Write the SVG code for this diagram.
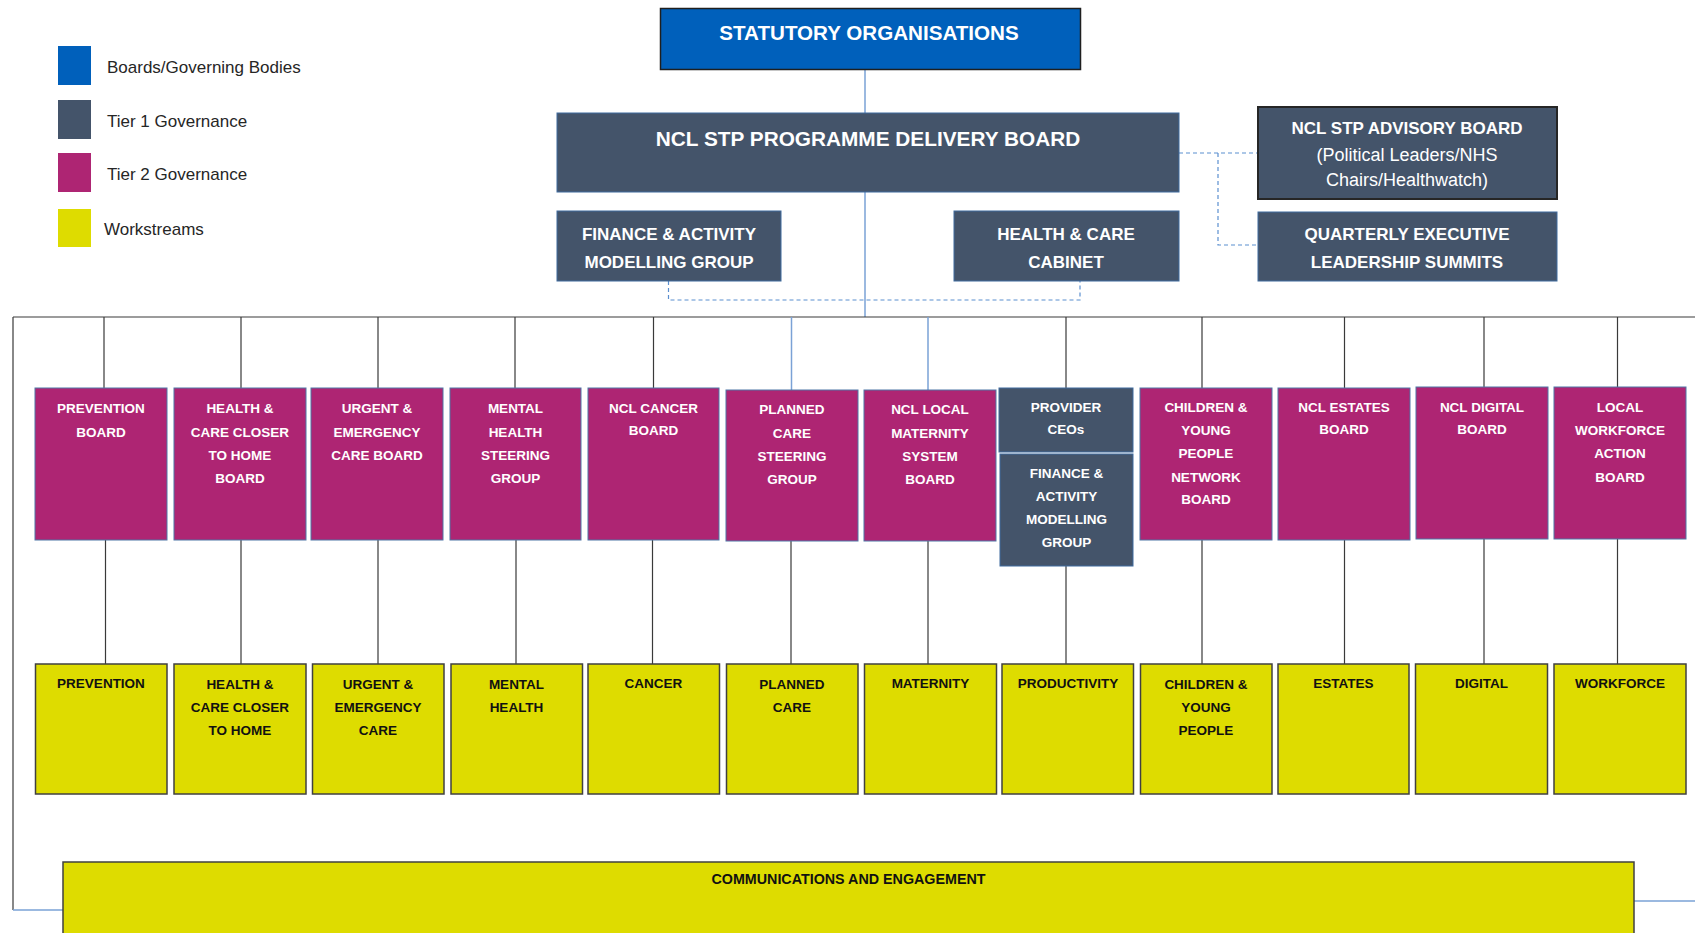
<svg xmlns="http://www.w3.org/2000/svg" width="1695" height="933" viewBox="0 0 1695 933">
  <style>
    .bd { fill: #0060BB; stroke: #1f1f1f; stroke-width: 1.5; }
    .t1 { fill: #44546A; stroke: #3F6B9E; stroke-width: 1; }
    .t2 { fill: #AE2573; stroke: #4F76A6; stroke-width: 1; }
    .ws { fill: #DEDC00; stroke: #404040; stroke-width: 1.5; }
    text { font-family: "Liberation Sans", Arial, sans-serif; }
    .lg { font-size: 17px; fill: #262626; }
    .h { font-weight: bold; text-anchor: middle; fill: #fff; }
    .big { font-size: 20.6px; }
    .mid { font-size: 17px; }
    .sm { font-size: 13.5px; }
    .reg { font-weight: normal; font-size: 18px; }
    .k { fill: #111; }
    .con { stroke: #3a3a3a; stroke-width: 1.2; fill: none; }
    .conb { stroke: #7BA2D6; stroke-width: 1.5; fill: none; }
    .dash { stroke: #5B8FD0; stroke-width: 1.2; stroke-dasharray: 4 3; fill: none; }
  </style>

  <!-- legend -->
  <g id="legend">
    <rect x="58" y="46" width="33" height="39" fill="#0060BB"/>
    <text class="lg" x="107" y="73">Boards/Governing Bodies</text>
    <rect x="58" y="100" width="33" height="39" fill="#44546A"/>
    <text class="lg" x="107" y="127">Tier 1 Governance</text>
    <rect x="58" y="153" width="33" height="39" fill="#AE2573"/>
    <text class="lg" x="107" y="180">Tier 2 Governance</text>
    <rect x="58" y="209" width="33" height="38" fill="#DEDC00"/>
    <text class="lg" x="104" y="235">Workstreams</text>
  </g>

  <!-- connectors -->
  <g id="connectors">
    <path class="conb" d="M865,70 V113 M865,192 V317"/>
    <path class="dash" d="M668.5,281 V300 H1080 V281"/>
    <path class="dash" d="M1179,153 H1258 M1218,153 V245 H1258"/>
    <path class="con" d="M13,317 H1695 M13,317 V910"/>
    <path class="conb" d="M13,910 H63 M1634,901 H1695"/>
    <!-- bus to tier 2 -->
    <path class="con" d="M104,317 V388 M241,317 V388 M378,317 V388 M515,317 V388 M653.5,317 V388 M1066,317 V388 M1202,317 V388 M1344.5,317 V388 M1484,317 V387 M1617.5,317 V387"/>
    <path class="conb" d="M791.5,317 V390 M928,317 V390"/>
    <!-- tier 2 to workstreams -->
    <path class="con" d="M105.5,540 V664 M241,540 V664 M378,540 V664 M516,540 V664 M652.5,540 V664 M791,541 V664 M928,541 V664 M1066,566 V664 M1202,540 V664 M1344.5,540 V664 M1484,539 V664 M1617.5,539 V664"/>
  </g>

  <!-- boards and tier 1 -->
  <g id="statutory">
    <rect class="bd" x="660.5" y="8.5" width="420" height="61"/>
    <text class="h big" x="869" y="40">STATUTORY ORGANISATIONS</text>
  </g>
  <g id="delivery-board">
    <rect class="t1" x="557" y="113" width="622" height="79"/>
    <text class="h" style="font-size:20.8px" x="868" y="146">NCL STP PROGRAMME DELIVERY BOARD</text>
  </g>
  <g id="finance-activity-top">
    <rect class="t1" x="557" y="211" width="224" height="70"/>
    <text class="h mid" x="669" y="240">FINANCE &amp; ACTIVITY</text>
    <text class="h mid" x="669" y="268">MODELLING GROUP</text>
  </g>
  <g id="health-care-cabinet">
    <rect class="t1" x="954" y="211" width="225" height="70"/>
    <text class="h mid" x="1066" y="240">HEALTH &amp; CARE</text>
    <text class="h mid" x="1066" y="268">CABINET</text>
  </g>
  <g id="advisory-board">
    <rect x="1258" y="107" width="299" height="92" fill="#44546A" stroke="#262626" stroke-width="2"/>
    <text class="h mid" x="1407" y="134">NCL STP ADVISORY BOARD</text>
    <text class="h reg" x="1407" y="161">(Political Leaders/NHS</text>
    <text class="h reg" x="1407" y="186">Chairs/Healthwatch)</text>
  </g>
  <g id="leadership-summits">
    <rect class="t1" x="1258" y="212" width="299" height="69"/>
    <text class="h mid" x="1407" y="240">QUARTERLY EXECUTIVE</text>
    <text class="h mid" x="1407" y="268">LEADERSHIP SUMMITS</text>
  </g>

  <!-- tier 2 governance -->
  <g id="prevention-board">
    <rect class="t2" x="35" y="388" width="132" height="152"/>
    <text class="h sm" x="101" y="413">PREVENTION</text>
    <text class="h sm" x="101" y="437">BOARD</text>
  </g>
  <g id="closer-to-home-board">
    <rect class="t2" x="174" y="388" width="132" height="152"/>
    <text class="h sm" x="240" y="413">HEALTH &amp;</text>
    <text class="h sm" x="240" y="437">CARE CLOSER</text>
    <text class="h sm" x="240" y="460">TO HOME</text>
    <text class="h sm" x="240" y="483">BOARD</text>
  </g>
  <g id="urgent-care-board">
    <rect class="t2" x="311" y="388" width="132" height="152"/>
    <text class="h sm" x="377" y="413">URGENT &amp;</text>
    <text class="h sm" x="377" y="437">EMERGENCY</text>
    <text class="h sm" x="377" y="460">CARE BOARD</text>
  </g>
  <g id="mental-health-group">
    <rect class="t2" x="450" y="388" width="131" height="152"/>
    <text class="h sm" x="515.5" y="413">MENTAL</text>
    <text class="h sm" x="515.5" y="437">HEALTH</text>
    <text class="h sm" x="515.5" y="460">STEERING</text>
    <text class="h sm" x="515.5" y="483">GROUP</text>
  </g>
  <g id="cancer-board">
    <rect class="t2" x="588" y="388" width="131" height="152"/>
    <text class="h sm" x="653.5" y="413">NCL CANCER</text>
    <text class="h sm" x="653.5" y="435">BOARD</text>
  </g>
  <g id="planned-care-group">
    <rect class="t2" x="726" y="390" width="132" height="151"/>
    <text class="h sm" x="792" y="414">PLANNED</text>
    <text class="h sm" x="792" y="438">CARE</text>
    <text class="h sm" x="792" y="461">STEERING</text>
    <text class="h sm" x="792" y="484">GROUP</text>
  </g>
  <g id="maternity-board">
    <rect class="t2" x="864" y="390" width="132" height="151"/>
    <text class="h sm" x="930" y="414">NCL LOCAL</text>
    <text class="h sm" x="930" y="438">MATERNITY</text>
    <text class="h sm" x="930" y="461">SYSTEM</text>
    <text class="h sm" x="930" y="484">BOARD</text>
  </g>
  <g id="provider-ceos">
    <rect class="t1" x="999" y="388" width="134" height="64"/>
    <text class="h sm" x="1066" y="412">PROVIDER</text>
    <text class="h sm" x="1066" y="434">CEOs</text>
  </g>
  <g id="finance-activity-group">
    <rect class="t1" x="1000" y="454" width="133" height="112"/>
    <text class="h sm" x="1066.5" y="478">FINANCE &amp;</text>
    <text class="h sm" x="1066.5" y="501">ACTIVITY</text>
    <text class="h sm" x="1066.5" y="524">MODELLING</text>
    <text class="h sm" x="1066.5" y="547">GROUP</text>
  </g>
  <g id="children-network-board">
    <rect class="t2" x="1140" y="388" width="132" height="152"/>
    <text class="h sm" x="1206" y="412">CHILDREN &amp;</text>
    <text class="h sm" x="1206" y="435">YOUNG</text>
    <text class="h sm" x="1206" y="458">PEOPLE</text>
    <text class="h sm" x="1206" y="482">NETWORK</text>
    <text class="h sm" x="1206" y="504">BOARD</text>
  </g>
  <g id="estates-board">
    <rect class="t2" x="1278" y="388" width="132" height="152"/>
    <text class="h sm" x="1344" y="412">NCL ESTATES</text>
    <text class="h sm" x="1344" y="434">BOARD</text>
  </g>
  <g id="digital-board">
    <rect class="t2" x="1416" y="387" width="132" height="152"/>
    <text class="h sm" x="1482" y="412">NCL DIGITAL</text>
    <text class="h sm" x="1482" y="434">BOARD</text>
  </g>
  <g id="workforce-board">
    <rect class="t2" x="1554" y="387" width="132" height="152"/>
    <text class="h sm" x="1620" y="412">LOCAL</text>
    <text class="h sm" x="1620" y="435">WORKFORCE</text>
    <text class="h sm" x="1620" y="458">ACTION</text>
    <text class="h sm" x="1620" y="482">BOARD</text>
  </g>

  <!-- workstreams -->
  <g id="ws-prevention">
    <rect class="ws" x="35.5" y="664" width="131.5" height="130"/>
    <text class="h sm k" x="101" y="688">PREVENTION</text>
  </g>
  <g id="ws-closer-to-home">
    <rect class="ws" x="174" y="664" width="132" height="130"/>
    <text class="h sm k" x="240" y="689">HEALTH &amp;</text>
    <text class="h sm k" x="240" y="712">CARE CLOSER</text>
    <text class="h sm k" x="240" y="735">TO HOME</text>
  </g>
  <g id="ws-urgent-care">
    <rect class="ws" x="312.5" y="664" width="131.5" height="130"/>
    <text class="h sm k" x="378" y="689">URGENT &amp;</text>
    <text class="h sm k" x="378" y="712">EMERGENCY</text>
    <text class="h sm k" x="378" y="735">CARE</text>
  </g>
  <g id="ws-mental-health">
    <rect class="ws" x="451" y="664" width="131.5" height="130"/>
    <text class="h sm k" x="516.5" y="689">MENTAL</text>
    <text class="h sm k" x="516.5" y="712">HEALTH</text>
  </g>
  <g id="ws-cancer">
    <rect class="ws" x="588" y="664" width="131.5" height="130"/>
    <text class="h sm k" x="653.5" y="688">CANCER</text>
  </g>
  <g id="ws-planned-care">
    <rect class="ws" x="726.5" y="664" width="131.5" height="130"/>
    <text class="h sm k" x="792" y="689">PLANNED</text>
    <text class="h sm k" x="792" y="712">CARE</text>
  </g>
  <g id="ws-maternity">
    <rect class="ws" x="864.5" y="664" width="132" height="130"/>
    <text class="h sm k" x="930.5" y="688">MATERNITY</text>
  </g>
  <g id="ws-productivity">
    <rect class="ws" x="1002" y="664" width="131.5" height="130"/>
    <text class="h sm k" x="1068" y="688">PRODUCTIVITY</text>
  </g>
  <g id="ws-children">
    <rect class="ws" x="1140.5" y="664" width="131.5" height="130"/>
    <text class="h sm k" x="1206" y="689">CHILDREN &amp;</text>
    <text class="h sm k" x="1206" y="712">YOUNG</text>
    <text class="h sm k" x="1206" y="735">PEOPLE</text>
  </g>
  <g id="ws-estates">
    <rect class="ws" x="1278" y="664" width="131" height="130"/>
    <text class="h sm k" x="1343.5" y="688">ESTATES</text>
  </g>
  <g id="ws-digital">
    <rect class="ws" x="1415.5" y="664" width="132" height="130"/>
    <text class="h sm k" x="1481.5" y="688">DIGITAL</text>
  </g>
  <g id="ws-workforce">
    <rect class="ws" x="1554" y="664" width="132" height="130"/>
    <text class="h sm k" x="1620" y="688">WORKFORCE</text>
  </g>
  <g id="ws-communications">
    <rect class="ws" x="63" y="862" width="1571" height="90"/>
    <text class="h k" style="font-size:14.3px" x="848.5" y="884">COMMUNICATIONS AND ENGAGEMENT</text>
  </g>
</svg>
